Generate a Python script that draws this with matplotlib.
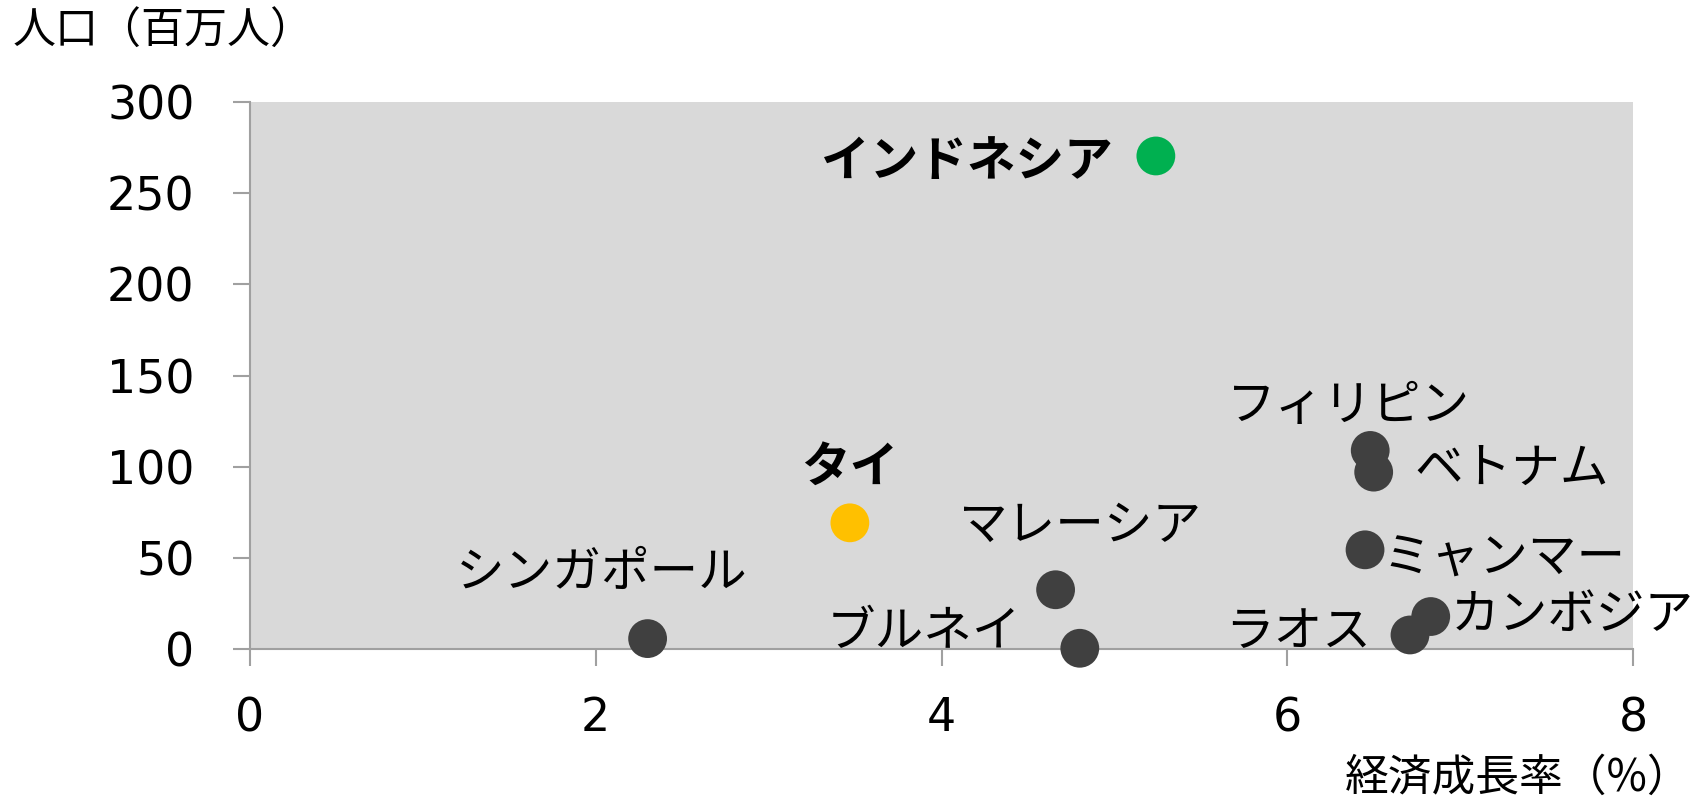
import matplotlib
matplotlib.use("Agg")
import matplotlib.pyplot as plt

plt.rcParams['font.family'] = ['Noto Sans CJK JP', 'DejaVu Sans']

countries = ["シンガポール", "タイ", "インドネシア", "マレーシア", "ブルネイ",
             "フィリピン", "ベトナム", "ミャンマー", "カンボジア", "ラオス"]
growth = [2.30, 3.47, 5.24, 4.66, 4.80, 6.48, 6.50, 6.45, 6.83, 6.71]
population = [5.7, 69.2, 270.4, 32.5, 0.4, 108.9, 97.0, 54.4, 17.8, 7.7]
highlight = {"インドネシア": "#00B050", "タイ": "#FFC000"}
x_ticks = [0, 2, 4, 6, 8]
y_ticks = [0, 50, 100, 150, 200, 250, 300]

# label placement: (ha, dx px, dy px)
label_pos = {
    "シンガポール": ("center", -46, 65),
    "タイ": ("center", 0, 56),
    "インドネシア": ("right", -43, -6),
    "マレーシア": ("center", 25, 64),
    "ブルネイ": ("right", -59, 16),
    "フィリピン": ("center", -22, 44),
    "ベトナム": ("left", 41, 3),
    "ミャンマー": ("left", 17, -9),
    "カンボジア": ("left", 20, 1),
    "ラオス": ("right", -39, 3),
}

fig = plt.figure(figsize=(16.93, 7.99), dpi=100)
ax = fig.add_axes([250/1693, 150/799, (1633-250)/1693, (649-102)/799])
ax.set_facecolor("#D9D9D9")

colors = [highlight.get(c, "#404040") for c in countries]
ax.scatter(growth, population, s=780, c=colors, zorder=3, clip_on=False, linewidths=0)

for c, x, y in zip(countries, growth, population):
    ha, dx, dy = label_pos[c]
    bold = c in highlight
    ax.annotate(c, (x, y), xytext=(dx, dy), textcoords='offset pixels',
                ha=ha, va='center', fontsize=35,
                fontweight='bold' if bold else 'normal', color='black', zorder=4)

ax.set_xlim(0, 8)
ax.set_ylim(0, 300)
ax.set_xticks(x_ticks)
ax.set_yticks(y_ticks)
ax.set_xticklabels([str(v) for v in x_ticks], family='DejaVu Sans')
ax.set_yticklabels([str(v) for v in y_ticks], family='DejaVu Sans')
ax.tick_params(axis='both', direction='out', length=12, width=1.5, color='#A0A0A0',
               labelsize=33)
ax.tick_params(axis='x', pad=22)
ax.tick_params(axis='y', pad=28)
for s in ['top', 'right']:
    ax.spines[s].set_visible(False)
for s in ['left', 'bottom']:
    ax.spines[s].set_color('#A0A0A0')
    ax.spines[s].set_linewidth(1.5)

fig.text(13/1693, 1 - 32/799, "人口（百万人）", fontsize=31, ha='left', va='center')
fig.text(1692/1693, 1 - 778/799, "経済成長率（%）", fontsize=31.5, ha='right', va='center')

fig.savefig("out.png", dpi=100)
